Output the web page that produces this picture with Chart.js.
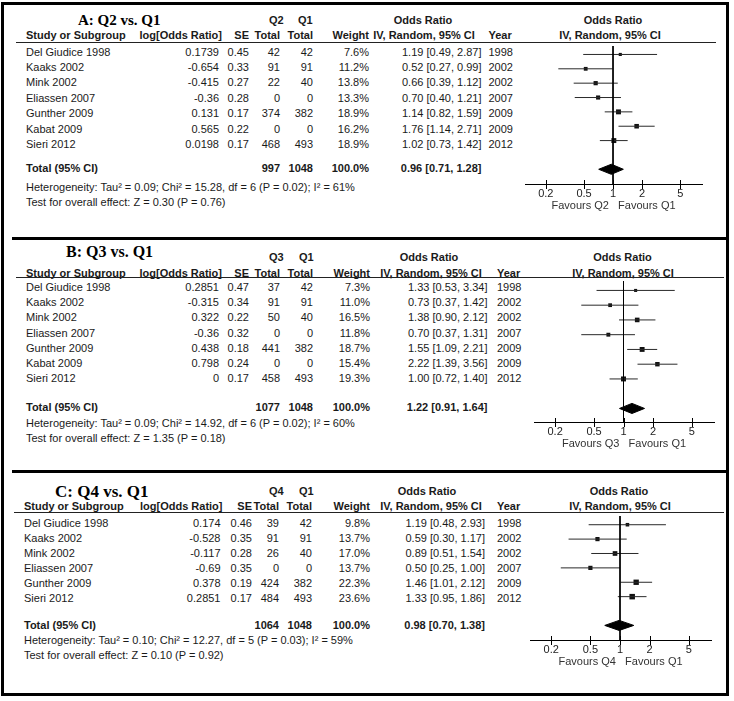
<!DOCTYPE html>
<html><head><meta charset="utf-8">
<script src="https://cdn.jsdelivr.net/npm/chart.js@4.4.1/dist/chart.umd.min.js"></script>
<style>
html,body{margin:0;padding:0;background:#fff;}
#page{position:relative;width:734px;height:701px;overflow:hidden;background:#fff;font-family:"Liberation Sans",Arial,sans-serif;font-size:11px;color:#1a1a1a;}
.t{position:absolute;white-space:pre;line-height:20px;height:20px;}
.b{font-weight:bold;}
.ttl{font-family:"Liberation Serif","Times New Roman",serif;font-weight:bold;color:#000;}
.ln{position:absolute;background:#000;}
canvas{position:absolute;}
</style></head><body><div id="page"></div>
<script>
// ---------- DATA ----------
const tickValues = [0.2, 0.5, 1, 2, 5];

// Panel A: Q2 vs. Q1
const studiesA = ['Del Giudice 1998','Kaaks 2002','Mink 2002','Eliassen 2007','Gunther 2009','Kabat 2009','Sieri 2012'];
const logOrA = [0.1739, -0.654, -0.415, -0.36, 0.131, 0.565, 0.0198];
const seA = [0.45, 0.33, 0.27, 0.28, 0.17, 0.22, 0.17];
const nQ2A = [42, 91, 22, 0, 374, 0, 468];
const nQ1A = [42, 91, 40, 0, 382, 0, 493];
const weightA = [7.6, 11.2, 13.8, 13.3, 18.9, 16.2, 18.9];
const orA = [1.19, 0.52, 0.66, 0.70, 1.14, 1.76, 1.02];
const loA = [0.49, 0.27, 0.39, 0.40, 0.82, 1.14, 0.73];
const hiA = [2.87, 0.99, 1.12, 1.21, 1.59, 2.71, 1.42];
const yearA = [1998, 2002, 2002, 2007, 2009, 2009, 2012];
const totalNA = [997, 1048];
const totalOrA = [0.96, 0.71, 1.28];
const hetA = 'Heterogeneity: Tau\u00b2 = 0.09; Chi\u00b2 = 15.28, df = 6 (P = 0.02); I\u00b2 = 61%';
const testA = 'Test for overall effect: Z = 0.30 (P = 0.76)';

// Panel B: Q3 vs. Q1
const studiesB = ['Del Giudice 1998','Kaaks 2002','Mink 2002','Eliassen 2007','Gunther 2009','Kabat 2009','Sieri 2012'];
const logOrB = [0.2851, -0.315, 0.322, -0.36, 0.438, 0.798, 0];
const seB = [0.47, 0.34, 0.22, 0.32, 0.18, 0.24, 0.17];
const nQ3B = [37, 91, 50, 0, 441, 0, 458];
const nQ1B = [42, 91, 40, 0, 382, 0, 493];
const weightB = [7.3, 11.0, 16.5, 11.8, 18.7, 15.4, 19.3];
const orB = [1.33, 0.73, 1.38, 0.70, 1.55, 2.22, 1.00];
const loB = [0.53, 0.37, 0.90, 0.37, 1.09, 1.39, 0.72];
const hiB = [3.34, 1.42, 2.12, 1.31, 2.21, 3.56, 1.40];
const yearB = [1998, 2002, 2002, 2007, 2009, 2009, 2012];
const totalNB = [1077, 1048];
const totalOrB = [1.22, 0.91, 1.64];
const hetB = 'Heterogeneity: Tau\u00b2 = 0.09; Chi\u00b2 = 14.92, df = 6 (P = 0.02); I\u00b2 = 60%';
const testB = 'Test for overall effect: Z = 1.35 (P = 0.18)';

// Panel C: Q4 vs. Q1
const studiesC = ['Del Giudice 1998','Kaaks 2002','Mink 2002','Eliassen 2007','Gunther 2009','Sieri 2012'];
const logOrC = [0.174, -0.528, -0.117, -0.69, 0.378, 0.2851];
const seC = [0.46, 0.35, 0.28, 0.35, 0.19, 0.17];
const nQ4C = [39, 91, 26, 0, 424, 484];
const nQ1C = [42, 91, 40, 0, 382, 493];
const weightC = [9.8, 13.7, 17.0, 13.7, 22.3, 23.6];
const orC = [1.19, 0.59, 0.89, 0.50, 1.46, 1.33];
const loC = [0.48, 0.30, 0.51, 0.25, 1.01, 0.95];
const hiC = [2.93, 1.17, 1.54, 1.00, 2.12, 1.86];
const yearC = [1998, 2002, 2002, 2007, 2009, 2012];
const totalNC = [1064, 1048];
const totalOrC = [0.98, 0.70, 1.38];
const hetC = 'Heterogeneity: Tau\u00b2 = 0.10; Chi\u00b2 = 12.27, df = 5 (P = 0.03); I\u00b2 = 59%';
const testC = 'Test for overall effect: Z = 0.10 (P = 0.92)';

// ---------- LAYOUT ----------
const page = document.getElementById('page');
const PW = 734;
const FONT = '"Liberation Sans", Arial, sans-serif';
const xMin = Math.pow(10, -0.915), xMax = Math.pow(10, 0.925);

function put(txt, x, y, align, cls, size) {
  const d = document.createElement('div');
  d.className = 't ' + (cls || '');
  d.textContent = txt;
  d.style.top = (y - 10) + 'px';
  if (size) d.style.fontSize = size + 'px';
  if (align === 'r') d.style.right = (PW - x) + 'px';
  else if (align === 'c') { d.style.left = x + 'px'; d.style.transform = 'translateX(-50%)'; }
  else d.style.left = x + 'px';
  page.appendChild(d);
}
function rect(x, y, w, h, color) {
  const d = document.createElement('div');
  d.className = 'ln';
  d.style.left = x + 'px'; d.style.top = y + 'px';
  d.style.width = w + 'px'; d.style.height = h + 'px';
  if (color) d.style.background = color;
  page.appendChild(d);
}
const fmt2 = v => v.toFixed(2);
const orText = (o, l, h) => fmt2(o) + ' [' + fmt2(l) + ', ' + fmt2(h) + ']';

const tickCross = {
  id: 'tickCross',
  afterDraw(chart) {
    const sx = chart.scales.x, ctx = chart.ctx, yb = Math.round(chart.chartArea.bottom);
    ctx.save();
    ctx.strokeStyle = '#000'; ctx.lineWidth = 1;
    sx.ticks.forEach(t => {
      const px = Math.round(sx.getPixelForValue(t.value)) + 0.5;
      ctx.beginPath(); ctx.moveTo(px, yb - 4); ctx.lineTo(px, yb + 5); ctx.stroke();
    });
    ctx.restore();
  }
};

function makePlot(L, g1, or, lo, hi, w, tot) {
  const H = 29;
  const yMin = (L.top - L.row0) / L.step, yMax = (L.axis - L.row0) / L.step;
  const width = L.right - L.left, height = L.axis - L.top + H;
  const c = document.createElement('canvas');
  c.width = width; c.height = height;
  c.style.left = L.left + 'px'; c.style.top = L.top + 'px';
  c.style.width = width + 'px'; c.style.height = height + 'px';
  page.appendChild(c);
  const ds = [];
  ds.push({type: 'line', data: [{x: 1, y: yMin}, {x: 1, y: yMax}], borderColor: '#000', borderWidth: 1, pointRadius: 0, fill: false});
  or.forEach((v, i) => ds.push({type: 'line', data: [{x: lo[i], y: i}, {x: hi[i], y: i}], borderColor: '#2a2a2a', borderWidth: 1, pointRadius: 0, fill: false}));
  ds.push({type: 'scatter', data: or.map((v, i) => ({x: v, y: i})), pointStyle: 'rect',
           pointRadius: w.map(x => 0.8 * Math.sqrt(x)), backgroundColor: '#111', borderColor: '#111', borderWidth: 0});
  const dr = L.diamondRow, h = 5.2 / L.step;
  ds.push({type: 'line', data: [{x: tot[1], y: dr}, {x: tot[0], y: dr - h}, {x: tot[2], y: dr}, {x: tot[0], y: dr + h}, {x: tot[1], y: dr}],
           borderColor: '#000', backgroundColor: '#000', borderWidth: 1, pointRadius: 0, fill: 'shape', tension: 0});
  new Chart(c, {
    type: 'scatter',
    data: {datasets: ds},
    plugins: [tickCross],
    options: {
      responsive: false, animation: false, devicePixelRatio: 1, events: [],
      layout: {padding: 0},
      plugins: {legend: {display: false}, tooltip: {enabled: false}},
      scales: {
        x: {
          type: 'logarithmic', min: xMin, max: xMax, position: 'bottom',
          afterBuildTicks: s => { s.ticks = tickValues.map(v => ({value: v})); },
          afterFit: s => { s.height = H; },
          grid: {display: true, drawOnChartArea: false, drawTicks: false},
          border: {display: true, color: '#000', width: 1},
          ticks: {padding: 3.5, color: '#222', autoSkip: false, maxRotation: 0, font: {family: FONT, size: 11}, callback: v => String(v)},
          title: {display: true, text: 'Favours ' + g1 + '   Favours Q1', color: '#333', padding: {top: 0, bottom: 0}, font: {family: FONT, size: 11}}
        },
        y: {type: 'linear', display: false, reverse: true, min: yMin, max: yMax}
      }
    }
  });
}

function buildPanel(L, g1, studies, logOr, se, n1, n2, w, or, lo, hi, yr, totN, totOr, het, test) {
  put(L.title, L.titleX, L.titleY, 'l', 'ttl', L.titleSize);
  put(g1, L.g1X, L.gY, 'l', 'b');
  put('Q1', L.g2X, L.gY, 'l', 'b');
  put('Odds Ratio', L.orHC, L.gY, 'c', 'b');
  put('Odds Ratio', L.plotOrC, L.gY, 'c', 'b');
  put('Study or Subgroup', L.studyX, L.hY, 'l', 'b');
  put('log[Odds Ratio]', L.logHR, L.hY, 'r', 'b');
  put('SE', L.seR, L.hY, 'r', 'b');
  put('Total', L.n1R, L.hY, 'r', 'b');
  put('Total', L.n2R, L.hY, 'r', 'b');
  put('Weight', L.wR, L.hY, 'r', 'b');
  put('IV, Random, 95% CI', L.ivHC, L.hY, 'c', 'b');
  put('Year', L.yearX, L.hY, 'l', 'b');
  put('IV, Random, 95% CI', L.plotIvC, L.hY, 'c', 'b');
  rect(L.lineX0, L.top, L.lineX1 - L.lineX0, 1, '#222');
  studies.forEach((s, i) => {
    const y = L.tRow0 + i * L.tStep;
    put(s, L.studyX, y, 'l');
    put(String(logOr[i]), L.logR, y, 'r');
    put(String(se[i]), L.seR, y, 'r');
    put(String(n1[i]), L.n1R, y, 'r');
    put(String(n2[i]), L.n2R, y, 'r');
    put(w[i].toFixed(1) + '%', L.wR, y, 'r');
    put(orText(or[i], lo[i], hi[i]), L.orR, y, 'r');
    put(String(yr[i]), L.yearX, y, 'l');
  });
  put('Total (95% CI)', L.studyX, L.totY, 'l', 'b');
  put(String(totN[0]), L.n1R, L.totY, 'r', 'b');
  put(String(totN[1]), L.n2R, L.totY, 'r', 'b');
  put('100.0%', L.wR, L.totY, 'r', 'b');
  put(orText(totOr[0], totOr[1], totOr[2]), L.orR, L.totY, 'r', 'b');
  put(het, L.studyX, L.hetY, 'l');
  put(test, L.studyX, L.testY, 'l');
  makePlot(L, g1, or, lo, hi, w, totOr);
}

const LA = {title: 'A: Q2 vs. Q1', titleX: 78, titleY: 19.5, titleSize: 15, gY: 20, g1X: 269, g2X: 298,
  orHC: 423, plotOrC: 613, hY: 35, studyX: 26, logHR: 222, logR: 219, seR: 249, n1R: 280, n2R: 313, wR: 369,
  ivHC: 424, orR: 481.5, yearX: 488.5, plotIvC: 610, lineX0: 16, lineX1: 716,
  tRow0: 51.7, tStep: 15.38, totY: 168.3, hetY: 186.5, testY: 201.7,
  left: 521, right: 706, top: 42, axis: 184, row0: 50.7, step: 14.77, diamondRow: 8};
const LB = {title: 'B: Q3 vs. Q1', titleX: 66, titleY: 252, titleSize: 16, gY: 257, g1X: 269, g2X: 299,
  orHC: 429, plotOrC: 622.5, hY: 272.7, studyX: 26, logHR: 222, logR: 219, seR: 249, n1R: 280, n2R: 313, wR: 370,
  ivHC: 431, orR: 487.5, yearX: 497, plotIvC: 623, lineX0: 16, lineX1: 724,
  tRow0: 286.7, tStep: 15.27, totY: 406.7, hetY: 423.3, testY: 437.7,
  left: 530, right: 718, top: 277, axis: 422, row0: 286.7, step: 15.17, diamondRow: 8};
const LC = {title: 'C: Q4 vs. Q1', titleX: 55, titleY: 491.5, titleSize: 17, gY: 491, g1X: 269, g2X: 299,
  orHC: 427, plotOrC: 619, hY: 506, studyX: 24, logHR: 222.5, logR: 220.5, seR: 252, n1R: 279, n2R: 312, wR: 370,
  ivHC: 431, orR: 485, yearX: 497, plotIvC: 620, lineX0: 14, lineX1: 724,
  tRow0: 523.3, tStep: 15, totY: 625, hetY: 640, testY: 655,
  left: 526, right: 715, top: 512, axis: 640, row0: 521, step: 14.85, diamondRow: 7};

// frame & separators
const frame = document.createElement('div');
frame.style.cssText = 'position:absolute;left:1px;top:2px;width:728px;height:694px;border:3px solid #000;box-sizing:border-box;';
page.appendChild(frame);
rect(12, 237, 715, 3, '#000');
rect(12, 470, 715, 3, '#000');

buildPanel(LA, 'Q2', studiesA, logOrA, seA, nQ2A, nQ1A, weightA, orA, loA, hiA, yearA, totalNA, totalOrA, hetA, testA);
buildPanel(LB, 'Q3', studiesB, logOrB, seB, nQ3B, nQ1B, weightB, orB, loB, hiB, yearB, totalNB, totalOrB, hetB, testB);
buildPanel(LC, 'Q4', studiesC, logOrC, seC, nQ4C, nQ1C, weightC, orC, loC, hiC, yearC, totalNC, totalOrC, hetC, testC);
</script></body></html>
